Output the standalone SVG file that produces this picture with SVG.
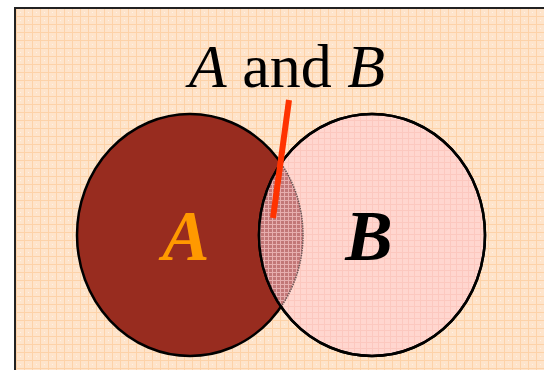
<svg xmlns="http://www.w3.org/2000/svg" width="544" height="370" viewBox="0 0 544 370">
<defs>
<pattern id="bg" width="8" height="8" patternUnits="userSpaceOnUse">
<rect width="8" height="8" fill="#fee4cb"/>
<path d="M0 0.5H8M0.5 0V8" stroke="#fdd2a8" stroke-width="1"/>
<rect x="4" y="4" width="1" height="1" fill="#fff2e6"/>
</pattern>
<pattern id="pk" width="6" height="6" patternUnits="userSpaceOnUse">
<rect width="6" height="6" fill="#ffd6cf"/>
<path d="M0 0.5H6M0.5 0V6" stroke="#fcc8bf" stroke-width="1"/>
</pattern>
<pattern id="lens" width="4" height="4" patternUnits="userSpaceOnUse">
<rect width="4" height="4" fill="#c27777"/>
<path d="M0 0.5H4M0.5 0V4" stroke="#e6aeae" stroke-width="1"/>
</pattern>
<clipPath id="clipA"><ellipse cx="190" cy="235" rx="113" ry="121"/></clipPath>
<clipPath id="clipB"><ellipse cx="372" cy="235" rx="113" ry="121"/></clipPath>
<style>
.outline{stroke:#000;stroke-width:2.5}
.lbl{font-family:"Liberation Serif","Times New Roman",serif;font-style:italic;font-weight:bold;font-size:71px}
</style>
</defs>
<rect x="0" y="0" width="544" height="370" fill="#fff"/>
<rect x="15" y="8" width="540" height="380" fill="url(#bg)" stroke="#222" stroke-width="2"/>
<text x="287" y="87" text-anchor="middle" font-family="'Liberation Serif','Times New Roman',serif" font-size="62" fill="#000"><tspan font-style="italic">A</tspan> and <tspan font-style="italic">B</tspan></text>
<g id="circleA">
<ellipse cx="190" cy="235" rx="113" ry="121" fill="#982c1f" class="outline"/>
</g>
<g id="circleB">
<ellipse cx="372" cy="235" rx="113" ry="121" fill="url(#pk)" class="outline"/>
</g>
<g id="intersection">
<ellipse cx="372" cy="235" rx="113" ry="121" fill="url(#lens)" clip-path="url(#clipA)"/>
<ellipse cx="190" cy="235" rx="113" ry="121" fill="none" stroke="#6b5555" stroke-width="1.5" stroke-dasharray="1.5 1" clip-path="url(#clipB)"/>
<ellipse cx="372" cy="235" rx="113" ry="121" fill="none" class="outline"/>
</g>
<g id="labels">
<text x="186" y="260" text-anchor="middle" class="lbl" fill="#ff9900">A</text>
<text x="369" y="260" text-anchor="middle" class="lbl" fill="#000">B</text>
</g>
<g id="connectors">
<line x1="289" y1="100" x2="273" y2="218" stroke="#ff3300" stroke-width="6"/>
</g>
</svg>
